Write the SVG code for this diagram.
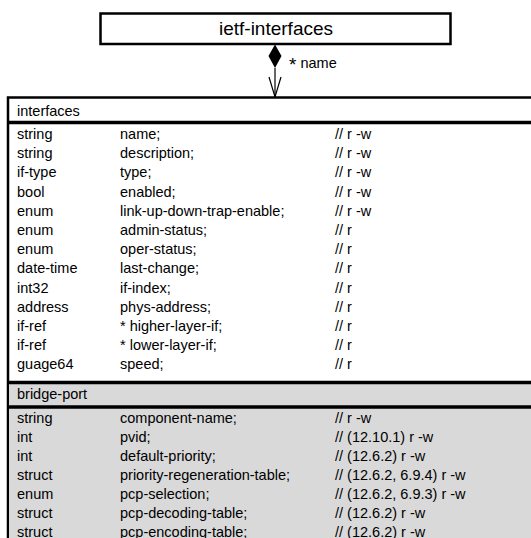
<svg xmlns="http://www.w3.org/2000/svg" width="531" height="538" viewBox="0 0 531 538">
  <style>
    text { font-family: "Liberation Sans", Arial, sans-serif; fill: #000; }
    .title { font-size: 19px; text-anchor: middle; }
    .t { font-size: 14.5px; }
    .box { fill: #fff; stroke: #000; stroke-width: 2.5; }
    .rule { stroke: #000; stroke-width: 3.5; }
    .gray { fill: #d9d9d9; }
    .conn { stroke: #000; stroke-width: 1.2; fill: none; }
  </style>

  <rect width="531" height="538" fill="#fff"/>

  <!-- top-level module -->
  <g id="ietf-interfaces">
    <rect class="box" x="100.5" y="13.5" width="350" height="30.5"/>
    <text class="title" x="276" y="35">ietf-interfaces</text>
  </g>

  <!-- composition link: module contains interface list keyed by name -->
  <g id="connectors">
    <path d="M275 44.5 L281.5 56 L275 68 L268.5 56 Z" fill="#000"/>
    <line class="conn" x1="275" y1="68" x2="275" y2="97"/>
    <polyline class="conn" points="269,77 275,97 281,77"/>
    <text class="t" x="289" y="68"><tspan font-size="19px" dy="3">*</tspan><tspan dy="-3"> name</tspan></text>
  </g>

  <!-- interfaces list with its bridge-port augmentation -->
  <g id="interfaces">
    <rect class="box" x="8" y="97.5" width="540" height="460"/>
    <rect class="gray" x="9" y="382" width="540" height="170"/>
    <line class="rule" x1="7" y1="122.5" x2="540" y2="122.5"/>
    <text class="t" x="17" y="116">interfaces</text>

    <g transform="translate(0,139)">
      <text class="t" x="17" y="0">string</text><text class="t" x="120" y="0">name;</text><text class="t" x="335" y="0">// r -w</text>
      <text class="t" x="17" y="19.2">string</text><text class="t" x="120" y="19.2">description;</text><text class="t" x="335" y="19.2">// r -w</text>
      <text class="t" x="17" y="38.4">if-type</text><text class="t" x="120" y="38.4">type;</text><text class="t" x="335" y="38.4">// r -w</text>
      <text class="t" x="17" y="57.6">bool</text><text class="t" x="120" y="57.6">enabled;</text><text class="t" x="335" y="57.6">// r -w</text>
      <text class="t" x="17" y="76.8">enum</text><text class="t" x="120" y="76.8">link-up-down-trap-enable;</text><text class="t" x="335" y="76.8">// r -w</text>
      <text class="t" x="17" y="96">enum</text><text class="t" x="120" y="96">admin-status;</text><text class="t" x="335" y="96">// r</text>
      <text class="t" x="17" y="115.2">enum</text><text class="t" x="120" y="115.2">oper-status;</text><text class="t" x="335" y="115.2">// r</text>
      <text class="t" x="17" y="134.4">date-time</text><text class="t" x="120" y="134.4">last-change;</text><text class="t" x="335" y="134.4">// r</text>
      <text class="t" x="17" y="153.6">int32</text><text class="t" x="120" y="153.6">if-index;</text><text class="t" x="335" y="153.6">// r</text>
      <text class="t" x="17" y="172.8">address</text><text class="t" x="120" y="172.8">phys-address;</text><text class="t" x="335" y="172.8">// r</text>
      <text class="t" x="17" y="192">if-ref</text><text class="t" x="120" y="192">* higher-layer-if;</text><text class="t" x="335" y="192">// r</text>
      <text class="t" x="17" y="211.2">if-ref</text><text class="t" x="120" y="211.2">* lower-layer-if;</text><text class="t" x="335" y="211.2">// r</text>
      <text class="t" x="17" y="230.4">guage64</text><text class="t" x="120" y="230.4">speed;</text><text class="t" x="335" y="230.4">// r</text>
    </g>
  </g>

  <g id="bridge-port">
    <line class="rule" x1="7" y1="382.5" x2="540" y2="382.5" stroke-width="4"/>
    <line class="rule" x1="7" y1="407" x2="540" y2="407"/>
    <text class="t" x="17" y="399">bridge-port</text>

    <g transform="translate(0,423)">
      <text class="t" x="17" y="0">string</text><text class="t" x="120" y="0">component-name;</text><text class="t" x="335" y="0">// r -w</text>
      <text class="t" x="17" y="19">int</text><text class="t" x="120" y="19">pvid;</text><text class="t" x="335" y="19">// (12.10.1) r -w</text>
      <text class="t" x="17" y="38">int</text><text class="t" x="120" y="38">default-priority;</text><text class="t" x="335" y="38">// (12.6.2) r -w</text>
      <text class="t" x="17" y="57">struct</text><text class="t" x="120" y="57">priority-regeneration-table;</text><text class="t" x="335" y="57">// (12.6.2, 6.9.4) r -w</text>
      <text class="t" x="17" y="76">enum</text><text class="t" x="120" y="76">pcp-selection;</text><text class="t" x="335" y="76">// (12.6.2, 6.9.3) r -w</text>
      <text class="t" x="17" y="95">struct</text><text class="t" x="120" y="95">pcp-decoding-table;</text><text class="t" x="335" y="95">// (12.6.2) r -w</text>
      <text class="t" x="17" y="114">struct</text><text class="t" x="120" y="114">pcp-encoding-table;</text><text class="t" x="335" y="114">// (12.6.2) r -w</text>
    </g>
  </g>
</svg>
